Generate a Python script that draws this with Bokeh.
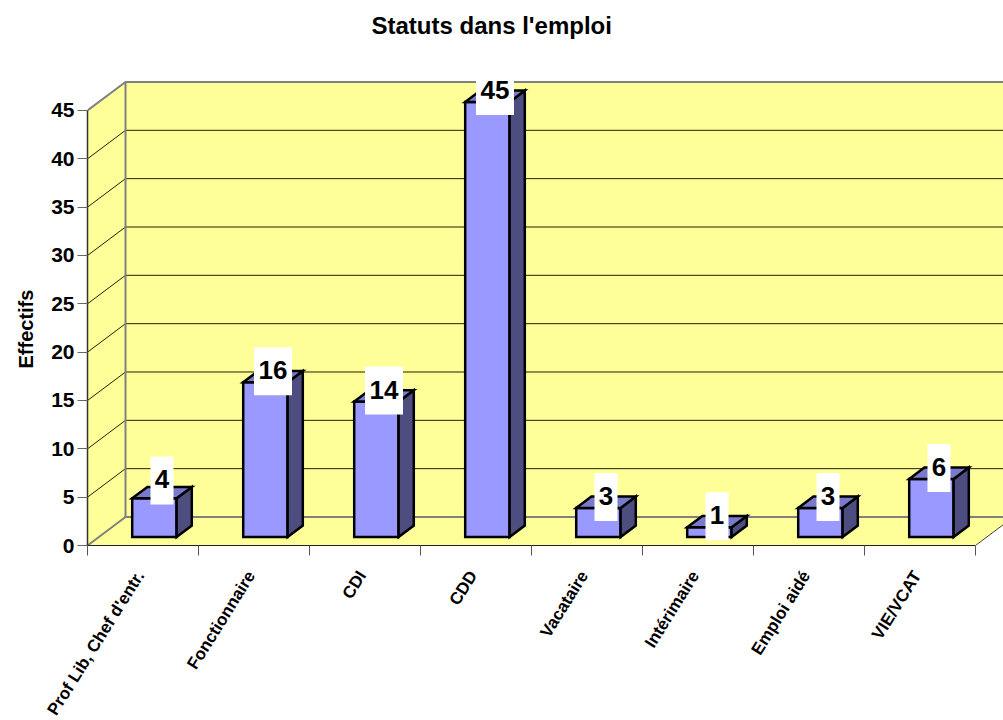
from bokeh.embed import file_html
from bokeh.resources import INLINE
from bokeh.plotting import figure
from bokeh.models import LinearAxis, FixedTicker, Range1d, Title
from bokeh.core.properties import value

categories = ["Prof Lib, Chef d'entr.", "Fonctionnaire", "CDI", "CDD", "Vacataire", "Intérimaire", "Emploi aidé", "VIE/VCAT"]
effectifs = [4, 16, 14, 45, 3, 1, 3, 6]
label_lift = [0.7, 0, 0, 0, 0, 0, 0, 0]
y_ticks = list(range(0, 50, 5))

PX_CAT = 111.0
PX_VAL = 9.667
DEPTH_X = 38.0 / PX_CAT      # oblique projection of the chart box, in category units
DEPTH_Y = 28.5 / PX_VAL      # and in value units
BAR_W = 0.40
D0, D1 = 0.30, 0.70          # bar extent along depth
FONT = "Liberation Sans"
N = len(categories)
VMAX = y_ticks[-1]


def X(x, d=0.0):
    return x + d * DEPTH_X


def Y(v, d=0.0):
    return v + d * DEPTH_Y


p = figure(width=1003, height=720, frame_width=916, frame_height=505, output_backend="svg", toolbar_location=None,
           x_range=Range1d(0, 916 / PX_CAT), y_range=Range1d(0, 505 / PX_VAL),
           x_axis_type=None, y_axis_type=None,
           min_border_left=87, min_border_right=0, min_border_top=40, min_border_bottom=0,
           outline_line_color=None, background_fill_color="white", border_fill_color="white")
p.grid.visible = False

t = Title(text="Statuts dans l'emploi", text_font=FONT, text_font_size="24px", text_font_style="bold",
          text_color="black", align="left", offset=284, standoff=4)
p.add_layout(t, "above")

wall = "#FFFF99"
grey = "#808080"
xr = N + 1.0  # walls run off the right of the picture

# back wall, left wall, floor
p.patch([X(0, 1), X(xr, 1), X(xr, 1), X(0, 1)], [Y(0, 1), Y(0, 1), Y(VMAX, 1), Y(VMAX, 1)], fill_color=wall, line_color=None)
p.patch([X(0, 0), X(0, 1), X(0, 1), X(0, 0)], [Y(0, 0), Y(0, 1), Y(VMAX, 1), Y(VMAX, 0)], fill_color=wall, line_color=None)
p.patch([X(0, 0), X(N, 0), X(N, 1), X(0, 1)], [Y(0, 0), Y(0, 0), Y(0, 1), Y(0, 1)], fill_color=wall, line_color=None)

# gridlines on the walls
for v in y_ticks[1:-1]:
    p.line([X(0, 0), X(0, 1), X(xr, 1)], [Y(v, 0), Y(v, 1), Y(v, 1)], line_color="#222200", line_width=1)

# wall edges
p.line([X(0, 0), X(0, 1), X(xr, 1)], [Y(VMAX, 0), Y(VMAX, 1), Y(VMAX, 1)], line_color=grey, line_width=2)
p.line([X(0, 0), X(0, 1), X(xr, 1)], [Y(0, 0), Y(0, 1), Y(0, 1)], line_color=grey, line_width=2)
p.line([X(0, 1), X(0, 1)], [Y(0, 1), Y(VMAX, 1)], line_color=grey, line_width=2)
p.line([X(N, 0), X(N, 1)], [Y(0, 0), Y(0, 1)], line_color="#404040", line_width=1)

# bars
lefts = [i + 0.5 - BAR_W / 2 for i in range(N)]
rights = [i + 0.5 + BAR_W / 2 for i in range(N)]
common = dict(line_color="black", line_width=2.5, line_join="miter")
p.patches([[X(a, D0), X(b, D0), X(b, D0), X(a, D0)] for a, b in zip(lefts, rights)],
          [[Y(0, D0), Y(0, D0), Y(v, D0), Y(v, D0)] for v in effectifs],
          fill_color="#9999FF", **common)
p.patches([[X(b, D0), X(b, D1), X(b, D1), X(b, D0)] for b in rights],
          [[Y(0, D0), Y(0, D1), Y(v, D1), Y(v, D0)] for v in effectifs],
          fill_color="#4D4D80", **common)
p.patches([[X(a, D0), X(b, D0), X(b, D1), X(a, D1)] for a, b in zip(lefts, rights)],
          [[Y(v, D0), Y(v, D0), Y(v, D1), Y(v, D1)] for v in effectifs],
          fill_color="#7A7ACC", **common)

# data labels with white boxes
DM = (D0 + D1) / 2
lx = [X(i + 0.5, DM) for i in range(N)]
ly = [Y(v + 0.55 + l, DM) for v, l in zip(effectifs, label_lift)]
txt = [str(v) for v in effectifs]
p.rect(lx, ly, width=[8 + 15 * len(s) for s in txt], height=48, width_units="screen", height_units="screen",
       fill_color="white", line_color=None)
p.text(lx, ly, text=txt, text_font=value(FONT), text_font_size="26px", text_font_style="bold",
       text_color="black", text_align="center", text_baseline="middle", y_offset=-1)

# axes
ya = LinearAxis(ticker=FixedTicker(ticks=y_ticks), bounds=(0, VMAX))
ya.axis_line_color = "#333333"
ya.axis_line_width = 1.5
ya.major_tick_line_color = "#666666"
ya.major_tick_out = 10
ya.major_tick_in = 0
ya.minor_tick_line_color = None
ya.major_label_text_font = FONT
ya.major_label_text_font_size = "21px"
ya.major_label_text_font_style = "bold"
ya.major_label_text_color = "black"
ya.major_label_standoff = 3
p.add_layout(ya, "left")

yt = Title(text="Effectifs", text_font=FONT, text_font_size="20px", text_font_style="bold", text_color="black",
           align="left", vertical_align="middle", offset=177, standoff=22)
p.add_layout(yt, "left")

xa = LinearAxis(ticker=FixedTicker(ticks=[i + 0.475 for i in range(N)], minor_ticks=list(range(N + 1))),
                bounds=(0, N))
xa.major_label_overrides = {i + 0.475: c for i, c in enumerate(categories)}
xa.axis_line_color = "#222222"
xa.axis_line_width = 1
xa.major_tick_line_color = None
xa.major_tick_out = 0
xa.major_tick_in = 0
xa.minor_tick_line_color = "#555555"
xa.minor_tick_out = 10
xa.minor_tick_in = 0
xa.major_label_orientation = 1.01
xa.major_label_standoff = 17
xa.major_label_text_font = FONT
xa.major_label_text_font_size = "17px"
xa.major_label_text_font_style = "bold"
xa.major_label_text_color = "black"
p.add_layout(xa, "below")

open("out.html", "w").write(file_html(p, INLINE))
